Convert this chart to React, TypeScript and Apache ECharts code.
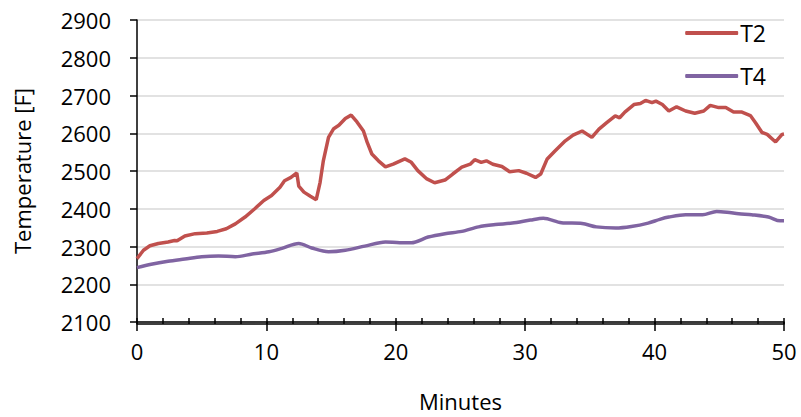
import React, { useEffect, useRef } from "react";
import * as echarts from "echarts";

const t2Minutes = [0, 0.5, 1.0, 1.65, 2.4, 2.9, 3.1, 3.7, 4.5, 5.4, 6.2, 6.9, 7.6, 8.35, 9.1, 9.8, 10.4, 11.05, 11.4, 11.9, 12.35, 12.5, 12.9, 13.4, 13.85, 14.15, 14.4, 14.8, 15.2, 15.6, 16.1, 16.55, 17.0, 17.5, 17.8, 18.15, 18.66, 19.2, 19.8, 20.7, 21.2, 21.7, 22.4, 23.0, 23.8, 24.4, 25.1, 25.75, 26.1, 26.6, 27.0, 27.5, 28.2, 28.8, 29.5, 30.1, 30.8, 31.2, 31.7, 32.3, 33.1, 33.7, 34.4, 35.15, 35.7, 36.3, 36.96, 37.3, 37.7, 38.4, 38.9, 39.3, 39.8, 40.1, 40.6, 41.1, 41.7, 42.4, 43.1, 43.8, 44.3, 44.95, 45.5, 46.1, 46.75, 47.4, 47.8, 48.3, 48.7, 49.35, 49.85, 50];
const t2Values = [2268, 2290, 2302, 2308, 2312, 2316, 2315, 2328, 2334, 2336, 2340, 2347, 2360, 2378, 2400, 2422, 2435, 2457, 2474, 2483, 2495, 2460, 2444, 2433, 2424, 2470, 2527, 2589, 2612, 2621, 2639, 2648, 2630, 2606, 2575, 2545, 2527, 2511, 2518, 2532, 2523, 2501, 2479, 2469, 2476, 2492, 2510, 2518, 2530, 2523, 2527, 2518, 2512, 2498, 2501, 2494, 2483, 2492, 2532, 2553, 2580, 2595, 2606, 2589, 2611, 2628, 2646, 2641, 2656, 2676, 2679, 2687, 2681, 2685, 2676, 2659, 2670, 2659, 2653, 2659, 2674, 2668, 2668, 2656, 2656, 2647, 2628, 2602, 2597, 2577, 2597, 2598];

const t4Minutes = [0, 1.1, 2.4, 3.7, 5, 6.3, 7.6, 8.9, 10.2, 11.2, 12.5, 13.5, 14.8, 16.1, 17.6, 19.2, 20.3, 21.2, 22.5, 23.8, 25.1, 26.4, 27.7, 29, 30.4, 31.4, 32.8, 34.4, 35.5, 37, 38.2, 39.5, 40.4, 41.1, 42.4, 43.7, 44.8, 45.6, 46.5, 47.5, 48.8, 49.7, 50];
const t4Values = [2244, 2253, 2261, 2267, 2273, 2275, 2273, 2280, 2286, 2295, 2308, 2296, 2286, 2290, 2301, 2312, 2310, 2310, 2325, 2334, 2340, 2352, 2358, 2362, 2370, 2375, 2363, 2361, 2352, 2349, 2353, 2362, 2372, 2378, 2384, 2384, 2393, 2391, 2387, 2384, 2378, 2368, 2368];

const seriesNames = ["T2", "T4"];
const seriesColors = ["#C0504D", "#8064A2"];

const FONT = "'Open Sans', sans-serif";

export default function App() {
  const ref = useRef<HTMLDivElement>(null);
  useEffect(() => {
    if (!ref.current) return;
    const chart = echarts.init(ref.current, null, { renderer: "svg" });
    const pairs = (xs: number[], ys: number[]) => xs.map((x, i) => [x, ys[i]]);
    const gridBox = { left: 137, right: 17, top: 20, bottom: 93 };
    chart.setOption({
      animation: false,
      backgroundColor: "#ffffff",
      grid: [gridBox, { ...gridBox }],
      legend: {
        orient: "vertical",
        right: 30,
        top: 16,
        icon: "roundRect",
        itemWidth: 53,
        itemHeight: 4,
        itemGap: 19,
        data: seriesNames,
        textStyle: { fontFamily: FONT, fontSize: 23, color: "#000", lineHeight: 24, padding: [0, 0, 0, -3] },
      },
      xAxis: [
        {
          type: "value",
          min: 0,
          max: 50,
          interval: 10,
          gridIndex: 0,
          position: "bottom",
          name: "Minutes",
          nameLocation: "middle",
          nameGap: 68,
          nameTextStyle: { fontFamily: FONT, fontSize: 22, color: "#000" },
          axisLine: { show: true, onZero: false, lineStyle: { color: "#000", width: 1.5 } },
          axisTick: { show: true, inside: false, length: 9, lineStyle: { color: "#000", width: 1.5 } },
          axisLabel: { margin: 18, fontFamily: FONT, fontSize: 22, color: "#000" },
          splitLine: { show: false },
        },
        {
          type: "value",
          min: 0,
          max: 50,
          interval: 10,
          gridIndex: 1,
          position: "bottom",
          axisLine: { show: true, onZero: false, lineStyle: { color: "#000", width: 1.5 } },
          axisTick: { show: true, inside: true, length: 6, lineStyle: { color: "#000", width: 1.5 } },
          minorTick: { show: true, splitNumber: 5, length: 6, lineStyle: { color: "#000", width: 1.5 } },
          axisLabel: { show: false },
          splitLine: { show: false },
        },
      ],
      yAxis: [
        {
          type: "value",
          min: 2100,
          max: 2900,
          interval: 100,
          gridIndex: 0,
          name: "Temperature [F]",
          nameLocation: "middle",
          nameGap: 104,
          nameTextStyle: { fontFamily: FONT, fontSize: 22, color: "#000" },
          axisLine: { show: true, lineStyle: { color: "#000", width: 1.5 } },
          axisTick: { show: true, inside: false, length: 7, lineStyle: { color: "#000", width: 1.5 } },
          axisLabel: { margin: 26, fontFamily: FONT, fontSize: 22, color: "#000", formatter: (v: number) => String(v) },
          splitLine: { show: true, lineStyle: { color: "#D9D9D9", width: 1.5 } },
        },
        {
          type: "value",
          min: 2100,
          max: 2900,
          interval: 100,
          gridIndex: 1,
          show: false,
        },
      ],
      series: [
        {
          name: seriesNames[0],
          type: "line",
          xAxisIndex: 0,
          yAxisIndex: 0,
          data: pairs(t2Minutes, t2Values),
          showSymbol: false,
          symbol: "none",
          lineStyle: { color: seriesColors[0], width: 3.5 },
          itemStyle: { color: seriesColors[0] },
        },
        {
          name: seriesNames[1],
          type: "line",
          xAxisIndex: 0,
          yAxisIndex: 0,
          data: pairs(t4Minutes, t4Values),
          showSymbol: false,
          symbol: "none",
          smooth: 0.3,
          lineStyle: { color: seriesColors[1], width: 3.5 },
          itemStyle: { color: seriesColors[1] },
        },
      ],
    });
    return () => chart.dispose();
  }, []);
  return (
    <div
      ref={ref}
      style={{ position: "fixed", left: 0, top: 0, width: 801, height: 417 }}
    />
  );
}
